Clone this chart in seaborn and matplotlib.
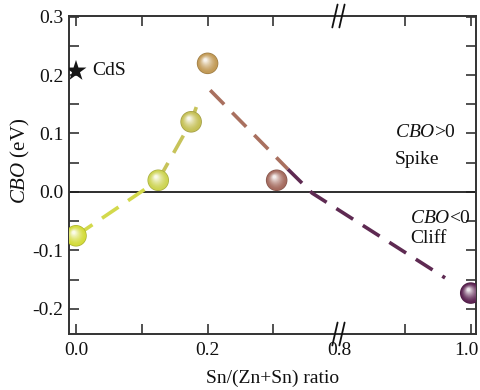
import matplotlib
matplotlib.use("Agg")
import matplotlib.pyplot as plt
from matplotlib.transforms import offset_copy, blended_transform_factory, ScaledTranslation
from matplotlib.colors import to_rgb
import numpy as np
import pandas as pd
import seaborn as sns

# ---------------- data ----------------
ratio = [0.0, 0.125, 0.175, 0.2, 0.305, 1.0]
cbo = [-0.075, 0.02, 0.12, 0.22, 0.02, -0.173]
ball_colors = ['#d4dc3a', '#cdd452', '#c5c055', '#c29a56', '#a56b5f', '#5c2352']

guide1a_x = [0.0, 0.125]
guide1a_y = [-0.075, 0.02]
guide1b_x = [0.125, 0.175, 0.185]
guide1b_y = [0.02, 0.12, 0.152]
guide2a_x = [0.204, 0.322]
guide2a_y = [0.174, 0.039]
guide2b_x = [0.322, 0.359, 0.961]
guide2b_y = [0.039, -0.002, -0.147]

cds_x, cds_y = 0.0, 0.207

xtick_major = [0.0, 0.2, 0.8, 1.0]
xtick_labels = ['0.0', '0.2', '0.8', '1.0']
xtick_minor = [0.1, 0.3, 0.9]
ytick_major = [-0.2, -0.1, 0.0, 0.1, 0.2, 0.3]
ytick_labels = ['-0.2', '-0.1', '0.0', '0.1', '0.2', '0.3']
ytick_minor = [-0.15, -0.05, 0.05, 0.15, 0.25]

BREAK_LO, BREAK_HI = 0.4, 0.8


def to_u(x):
    x = np.asarray(x, dtype=float)
    return np.where(x <= BREAK_LO, x, x - (BREAK_HI - BREAK_LO))


# ---------------- style ----------------
sns.set_theme(style="white")
plt.rcParams['font.family'] = ['Liberation Serif', 'DejaVu Serif']
plt.rcParams['mathtext.fontset'] = 'custom'
plt.rcParams['mathtext.rm'] = 'Liberation Serif'
plt.rcParams['mathtext.it'] = 'Liberation Serif:italic'
plt.rcParams['axes.unicode_minus'] = False

fig = plt.figure(figsize=(4.81, 3.90), dpi=100)
ax = fig.add_axes([0.1435, 0.1436, 0.8461, 0.8154])

ax.set_xlim(-0.0106, 0.608)
ax.set_ylim(-0.243, 0.301)

# zero line
ax.axhline(0, color='#1e1e1e', lw=1.3, zorder=1)

# dashed guide lines
dash = (0, (5.5, 3.2))
for gx, gy, col in [(guide1a_x, guide1a_y, '#d3d94c'),
                    (guide1b_x, guide1b_y, '#c7c35a'),
                    (guide2a_x, guide2a_y, '#a9705f'),
                    (guide2b_x, guide2b_y, '#5e2a52')]:
    df = pd.DataFrame({'u': to_u(gx), 'y': gy})
    sns.lineplot(data=df, x='u', y='y', color=col, lw=2.6, ax=ax,
                 sort=False, estimator=None, zorder=2)
    ax.lines[-1].set_linestyle(dash)
    ax.lines[-1].set_solid_capstyle('butt')


# shaded spheres
def mix(c, w, t):
    c = np.array(to_rgb(c)); w = np.array(to_rgb(w))
    return tuple(c * (1 - t) + w * t)


D = 15.5  # points diameter
bdf = pd.DataFrame({'u': to_u(ratio), 'y': cbo})
for i, (u, y, col) in enumerate(zip(bdf['u'], bdf['y'], ball_colors)):
    sns.scatterplot(x=[u], y=[y], color=mix(col, '#000000', 0.18), s=D ** 2,
                    edgecolor='none', ax=ax, legend=False, zorder=5)
    n = 12
    for k in range(n):
        t = k / (n - 1)
        size = D * (0.93 - 0.78 * t)
        dx, dy = -1.6 * t, 2.4 * t
        c = mix(col, '#ffffff', 0.88 * t ** 1.5)
        tr = offset_copy(ax.transData, fig=fig, x=dx, y=dy, units='points')
        ax.scatter([u], [y], s=size ** 2, color=c, edgecolor='none',
                   transform=tr, zorder=6 + k)

# CdS star
sns.scatterplot(x=[cds_x], y=[cds_y], marker='*', s=250, color='#151515',
                edgecolor='none', ax=ax, legend=False, zorder=20)
ax.text(0.024, cds_y, 'CdS', fontsize=14, va='center', ha='left', color='#111')

# annotations
ax.text(0.485, 0.101, r'$\mathit{CBO}$>0', fontsize=14, va='center', ha='left', color='#111')
ax.text(0.485, 0.056, 'Spike', fontsize=14, va='center', ha='left', color='#111')
ax.text(0.508, -0.046, r'$\mathit{CBO}$<0', fontsize=14, va='center', ha='left', color='#111')
ax.text(0.508, -0.080, 'Cliff', fontsize=14, va='center', ha='left', color='#111')

# ticks
ax.set_xticks(to_u(xtick_major))
ax.set_xticklabels(xtick_labels)
ax.set_xticks(to_u(xtick_minor), minor=True)
ax.set_yticks(ytick_major)
ax.set_yticklabels(ytick_labels)
ax.set_yticks(ytick_minor, minor=True)
ax.tick_params(which='both', direction='in', top=True, right=True, bottom=True, left=True,
               length=7, width=1.2, color='#333333', labelsize=14, labelcolor='#111')
ax.tick_params(axis='x', which='major', pad=6)
ax.tick_params(axis='y', which='major', pad=4)
for t in ax.xaxis.get_major_ticks():
    if abs(t.get_loc() - 0.4) < 1e-6:
        t.tick1line.set_visible(False)
        t.tick2line.set_visible(False)

# nudge the last x tick label left so it stays inside the figure
fig.canvas.draw()
last = ax.get_xticklabels()[-1]
last.set_transform(last.get_transform() + ScaledTranslation(-4 / 100, 0, fig.dpi_scale_trans))

for s in ax.spines.values():
    s.set_color('#333333')
    s.set_linewidth(1.4)

ax.set_xlabel('Sn/(Zn+Sn) ratio', fontsize=14, labelpad=7.5, color='#111')
ax.set_ylabel(r'$\mathit{CBO}$ (eV)', fontsize=15, color='#111')
ax.yaxis.set_label_coords(-0.09, 0.544)

# axis break marks
btr = blended_transform_factory(ax.transData, ax.transAxes)
for yc in (0.0, 1.0):
    for xc in (0.3936, 0.4043):
        ax.plot([xc - 0.004, xc + 0.004], [yc - 0.036, yc + 0.036], color='#111',
                lw=1.3, transform=btr, clip_on=False, zorder=30)

fig.savefig('out.png', dpi=100)
